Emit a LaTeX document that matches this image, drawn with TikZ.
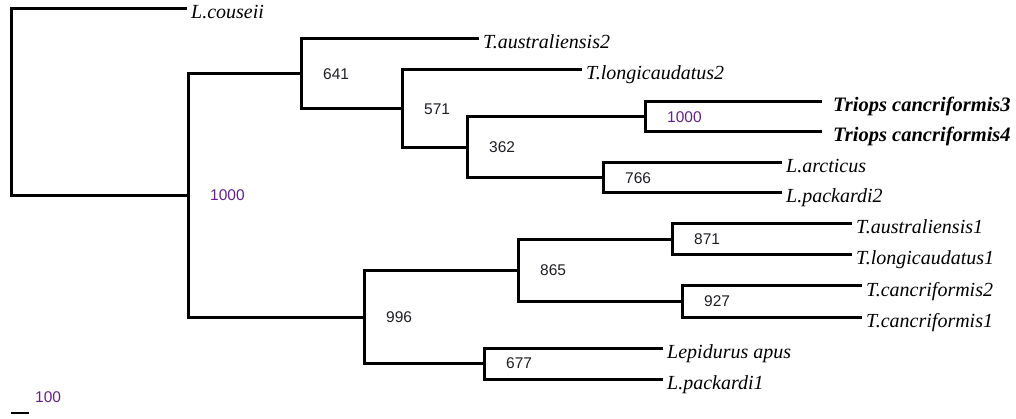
\documentclass[tikz,border=0pt]{standalone}
\usepackage{fontspec}
\setmainfont{Liberation Serif}
\newfontfamily\bsfont{Liberation Sans}
\usepackage{xcolor}
\usepackage{tikz}
\usetikzlibrary{positioning}
\definecolor{bspurple}{RGB}{96,36,132}
\definecolor{bsgrey}{RGB}{30,30,36}

\begin{document}
\begin{tikzpicture}[x=1pt, y=-1pt,
    branch/.style={line width=3pt},
    taxon/.style={anchor=base west, inner sep=0pt, xshift=4pt, yshift=-10pt, font=\fontsize{20}{21}\selectfont\itshape},
    taxonbold/.style={taxon, xshift=7pt, font=\fontsize{20.5}{21}\selectfont\bfseries\itshape},
    boot/.style={anchor=west, inner sep=0pt, xshift=22pt, text=bsgrey, font=\bsfont\fontsize{15.5}{16}\selectfont},
    scalebar/.style={line width=1.6pt}
]
\useasboundingbox (0,0) rectangle (1016,419);
% Leaf tips
\coordinate (couseii) at (187,9);
\coordinate (taus2) at (479,39);
\coordinate (tlong2) at (582,70);
\coordinate (tcan3) at (822,102);
\coordinate (tcan4) at (822,132);
\coordinate (larc) at (782,163);
\coordinate (lpack2) at (782,193);
\coordinate (taus1) at (852,224);
\coordinate (tlong1) at (852,255);
\coordinate (tcan2) at (862,286);
\coordinate (tcan1) at (862,317);
\coordinate (lapus) at (663,348);
\coordinate (lpack1) at (663,379);
% Inner nodes
\coordinate (root) at (11,102.2);
\coordinate (n1000a) at (188,195.4);
\coordinate (n641) at (301,73.9);
\coordinate (n571) at (402,108.75);
\coordinate (n362) at (467,147.5);
\coordinate (n1000b) at (645,117);
\coordinate (n766) at (603,178);
\coordinate (n996) at (364,317);
\coordinate (n865) at (518,270.5);
\coordinate (n871) at (672,239.5);
\coordinate (n927) at (682,301.5);
\coordinate (n677) at (484,363.5);
% Upper clade
\draw[branch] (root) |- (couseii);
\draw[branch] (root) |- (n1000a);
\draw[branch] (n1000a) |- (n641);
\draw[branch] (n641) |- (taus2);
\draw[branch] (n641) |- (n571);
\draw[branch] (n571) |- (tlong2);
\draw[branch] (n571) |- (n362);
\draw[branch] (n362) |- (n1000b);
\draw[branch] (n1000b) |- (tcan3);
\draw[branch] (n1000b) |- (tcan4);
\draw[branch] (n362) |- (n766);
\draw[branch] (n766) |- (larc);
\draw[branch] (n766) |- (lpack2);
% Lower clade
\draw[branch] (n1000a) |- (n996);
\draw[branch] (n996) |- (n865);
\draw[branch] (n865) |- (n871);
\draw[branch] (n871) |- (taus1);
\draw[branch] (n871) |- (tlong1);
\draw[branch] (n865) |- (n927);
\draw[branch] (n927) |- (tcan2);
\draw[branch] (n927) |- (tcan1);
\draw[branch] (n996) |- (n677);
\draw[branch] (n677) |- (lapus);
\draw[branch] (n677) |- (lpack1);
% Taxon names
\node[taxon] (lcouseii) at (couseii) {L.couseii};
\node[taxon] (ltaus2) at (taus2) {T.australiensis2};
\node[taxon] (ltlong2) at (tlong2) {T.longicaudatus2};
\node[taxonbold] (ltcan3) at (tcan3) {Triops cancriformis3};
\node[taxonbold] (ltcan4) at (tcan4) {Triops cancriformis4};
\node[taxon] (llarc) at (larc) {L.arcticus};
\node[taxon] (llpack2) at (lpack2) {L.packardi2};
\node[taxon] (ltaus1) at (taus1) {T.australiensis1};
\node[taxon] (ltlong1) at (tlong1) {T.longicaudatus1};
\node[taxon] (ltcan2) at (tcan2) {T.cancriformis2};
\node[taxon] (ltcan1) at (tcan1) {T.cancriformis1};
\node[taxon] (llapus) at (lapus) {Lepidurus apus};
\node[taxon] (llpack1) at (lpack1) {L.packardi1};
% Bootstrap values
\node[boot, text=bspurple] (b1000a) at (n1000a) {1000};
\node[boot] (b641) at (n641) {641};
\node[boot] (b571) at (n571) {571};
\node[boot] (b362) at (n362) {362};
\node[boot, text=bspurple] (b1000b) at (n1000b) {1000};
\node[boot] (b766) at (n766) {766};
\node[boot] (b996) at (n996) {996};
\node[boot] (b865) at (n865) {865};
\node[boot] (b871) at (n871) {871};
\node[boot] (b927) at (n927) {927};
\node[boot] (b677) at (n677) {677};
% Scale bar
\coordinate (sbl) at (11,413);
\coordinate (sbr) at (29,413);
\draw[scalebar] (sbl) -- (sbr);
\node[boot, text=bspurple, xshift=-16pt, yshift=15.5pt] (sblabel) at (sbr) {100};
\end{tikzpicture}
\end{document}
